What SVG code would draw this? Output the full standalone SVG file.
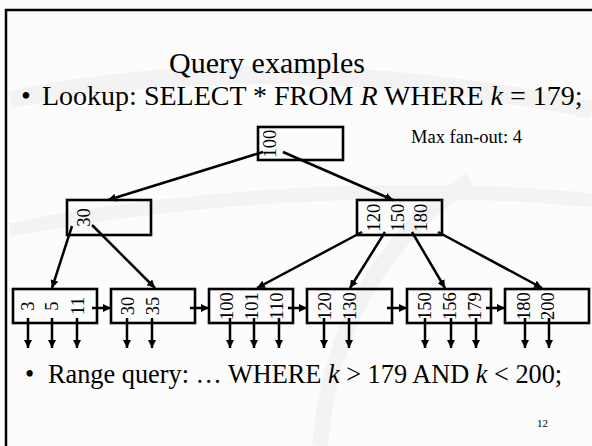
<svg xmlns="http://www.w3.org/2000/svg" width="592" height="446" viewBox="0 0 592 446">
  <defs>
    <marker id="arrow" viewBox="0 0 10 10" refX="10" refY="5" markerWidth="8" markerHeight="8" markerUnits="userSpaceOnUse" orient="auto">
      <path d="M0,0 L10,5 L0,10 Z" fill="#000"/>
    </marker>
  </defs>
  <style>
    .bg { fill: #fcfcfc; }
    .swirl { fill: none; stroke: #f3f3f3; }
    .frame { fill: none; stroke: #000; stroke-width: 2.5; }
    .node { fill: none; stroke: #000; stroke-width: 2.6; }
    .key { font-family: "Liberation Serif", "Times New Roman", serif; font-size: 18.5px; fill: #000; text-anchor: middle; }
    .title { font-family: "Liberation Serif", "Times New Roman", serif; font-size: 30px; fill: #000; text-anchor: middle; }
    .body { font-family: "Liberation Serif", "Times New Roman", serif; fill: #000; }
    .note { font-family: "Liberation Serif", "Times New Roman", serif; font-size: 18.5px; fill: #000; }
    .pnum { font-family: "Liberation Serif", "Times New Roman", serif; font-size: 11px; fill: #000; }
    .link { fill: none; stroke: #000; stroke-width: 2.5; marker-end: url(#arrow); }
  </style>

  <!-- slide background and template swirls -->
  <rect class="bg" x="0" y="0" width="592" height="446"/>
  <path class="swirl" stroke-width="18" d="M10,100 C150,70 350,60 592,110"/>
  <path class="swirl" stroke-width="14" d="M10,230 C160,200 380,180 592,200"/>
  <path class="swirl" stroke-width="16" d="M320,446 C330,330 380,240 470,180"/>
  <path class="frame" d="M6,446 V10 H592"/>

  <!-- heading and bullet text -->
  <text class="title" x="267" y="73">Query examples</text>
  <text class="body" font-size="28" x="21" y="105">•</text>
  <text class="body" font-size="28" x="42" y="105">Lookup: SELECT * FROM <tspan font-style="italic">R</tspan> WHERE <tspan font-style="italic">k</tspan> = 179;</text>
  <text class="note" x="411" y="143">Max fan-out: 4</text>
  <text class="body" font-size="26.3" x="25" y="383">•</text>
  <text class="body" font-size="26.3" x="48" y="383">Range query: … WHERE <tspan font-style="italic">k</tspan> &gt; 179 AND <tspan font-style="italic">k</tspan> &lt; 200;</text>
  <text class="pnum" x="537" y="427">12</text>

  <!-- root -->
  <g id="root">
    <rect class="node" x="258" y="127" width="85" height="33"/>
    <text class="key" transform="translate(276,143.5) rotate(-90)">100</text>
  </g>

  <!-- inner nodes -->
  <g id="inner-30">
    <rect class="node" x="67" y="200" width="84" height="35"/>
    <text class="key" transform="translate(90,217.5) rotate(-90)">30</text>
  </g>
  <g id="inner-120-150-180">
    <rect class="node" x="357" y="200" width="85" height="35"/>
    <text class="key" transform="translate(380,217.5) rotate(-90)">120</text>
    <text class="key" transform="translate(404,217.5) rotate(-90)">150</text>
    <text class="key" transform="translate(427,217.5) rotate(-90)">180</text>
  </g>

  <!-- leaves -->
  <g id="leaf-3-5-11">
    <rect class="node" x="13" y="289" width="84" height="34"/>
    <text class="key" transform="translate(34,306) rotate(-90)">3</text>
    <text class="key" transform="translate(58,306) rotate(-90)">5</text>
    <text class="key" transform="translate(84,306) rotate(-90)">11</text>
  </g>
  <g id="leaf-30-35">
    <rect class="node" x="111" y="289" width="84" height="34"/>
    <text class="key" transform="translate(134,306) rotate(-90)">30</text>
    <text class="key" transform="translate(159,306) rotate(-90)">35</text>
  </g>
  <g id="leaf-100-101-110">
    <rect class="node" x="209" y="289" width="84" height="34"/>
    <text class="key" transform="translate(233,306) rotate(-90)">100</text>
    <text class="key" transform="translate(258,306) rotate(-90)">101</text>
    <text class="key" transform="translate(283,306) rotate(-90)">110</text>
  </g>
  <g id="leaf-120-130">
    <rect class="node" x="307" y="289" width="85" height="34"/>
    <text class="key" transform="translate(331,306) rotate(-90)">120</text>
    <text class="key" transform="translate(356,306) rotate(-90)">130</text>
  </g>
  <g id="leaf-150-156-179">
    <rect class="node" x="407" y="289" width="84" height="34"/>
    <text class="key" transform="translate(431,306) rotate(-90)">150</text>
    <text class="key" transform="translate(456,306) rotate(-90)">156</text>
    <text class="key" transform="translate(481,306) rotate(-90)">179</text>
  </g>
  <g id="leaf-180-200">
    <rect class="node" x="505" y="289" width="84" height="34"/>
    <text class="key" transform="translate(530,306) rotate(-90)">180</text>
    <text class="key" transform="translate(554,306) rotate(-90)">200</text>
  </g>

  <!-- connectors: child pointers, sibling links, record pointers -->
  <g id="connectors">
    <line class="link" x1="263" y1="152" x2="108" y2="200"/>
    <line class="link" x1="283" y1="152" x2="393" y2="200"/>

    <line class="link" x1="72" y1="226" x2="52" y2="288"/>
    <line class="link" x1="92" y1="225" x2="155" y2="288"/>

    <line class="link" x1="362" y1="232" x2="257" y2="288"/>
    <line class="link" x1="385" y1="232" x2="350" y2="288"/>
    <line class="link" x1="412" y1="232" x2="445" y2="288"/>
    <line class="link" x1="438" y1="232" x2="542" y2="288"/>

    <line class="link" x1="92" y1="308" x2="111" y2="308"/>
    <line class="link" x1="190" y1="308" x2="209" y2="308"/>
    <line class="link" x1="288" y1="308" x2="307" y2="308"/>
    <line class="link" x1="387" y1="308" x2="407" y2="308"/>
    <line class="link" x1="486" y1="308" x2="505" y2="308"/>

    <line class="link" x1="28" y1="318" x2="28" y2="348"/>
    <line class="link" x1="52" y1="318" x2="52" y2="348"/>
    <line class="link" x1="77" y1="318" x2="77" y2="348"/>
    <line class="link" x1="127" y1="318" x2="127" y2="348"/>
    <line class="link" x1="152" y1="318" x2="152" y2="348"/>
    <line class="link" x1="230" y1="318" x2="230" y2="348"/>
    <line class="link" x1="254" y1="318" x2="254" y2="348"/>
    <line class="link" x1="279" y1="318" x2="279" y2="348"/>
    <line class="link" x1="324" y1="318" x2="324" y2="348"/>
    <line class="link" x1="349" y1="318" x2="349" y2="348"/>
    <line class="link" x1="425" y1="318" x2="425" y2="348"/>
    <line class="link" x1="451" y1="318" x2="451" y2="348"/>
    <line class="link" x1="476" y1="318" x2="476" y2="348"/>
    <line class="link" x1="525" y1="318" x2="525" y2="348"/>
    <line class="link" x1="549" y1="318" x2="549" y2="348"/>
  </g>
</svg>
